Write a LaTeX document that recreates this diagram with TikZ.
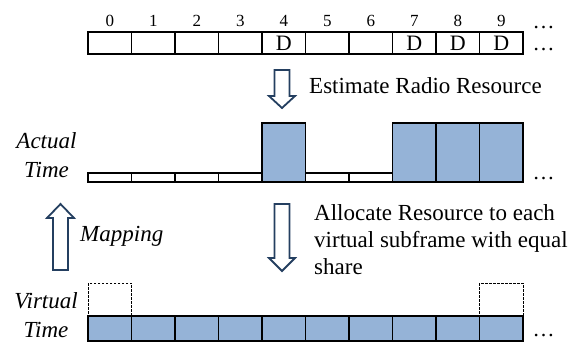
\documentclass[tikz,border=0pt]{standalone}
\usepackage{fontspec}
\setmainfont{Liberation Serif}
\definecolor{cellblue}{HTML}{95B3D7}
\definecolor{arrowblue}{HTML}{243F60}
\begin{document}
\begin{tikzpicture}[x=1pt,y=-1pt,
  cell/.style={draw=black, line width=1.1pt, minimum width=43.5pt, inner sep=0pt, outer sep=0pt},
  topcell/.style={cell, minimum height=22pt},
  thincell/.style={cell, minimum height=9pt},
  tallcell/.style={cell, fill=cellblue, minimum height=59pt},
  vcell/.style={cell, fill=cellblue, minimum height=25pt},
  ghost/.style={cell, dash pattern=on 2.5pt off 1.5pt, line width=0.8pt, minimum height=33pt},
  blockarrow/.style={draw=arrowblue, line width=1.8pt, fill=white, line join=miter},
  num/.style={font=\fontsize{17}{20}\selectfont, anchor=base, inner sep=0pt},
  dmark/.style={font=\fontsize{22}{26}\selectfont, inner sep=0pt},
  dotsmark/.style={font=\fontsize{22}{26}\selectfont, anchor=base, inner sep=0pt},
  lbl/.style={font=\fontsize{23}{29}\selectfont\itshape, align=center, inner sep=0pt, anchor=north},
  txt/.style={font=\fontsize{23}{27}\selectfont, inner sep=0pt}]
\useasboundingbox (0,0) rectangle (578,343);

% top row: subframes with indices
\foreach \i in {0,...,9} {
  \node[topcell] (t\i) at ({109.75+43.5*\i}, 43) {};
  \node[num] (n\i) at ({109.75+43.5*\i}, 26.5) {\i};
}
\foreach \i in {4,7,8,9} {
  \node[dmark] (d\i) at (t\i.center) {D};
}
\node[dotsmark] (dotsA) at (543.5,28.5) {\dots};
\node[dotsmark] (dotsB) at (543.5,50.5) {\dots};

% estimate arrow and text
\draw[blockarrow] (274.5,70) -- (289.5,70) -- (289.5,96) -- (295,96) -- (282,108) -- (269,96) -- (274.5,96) -- cycle;
\node[txt, anchor=base west] (est) at (309,93) {Estimate Radio Resource};

% actual time row
\foreach \i in {0,1,2,3,5,6} {
  \node[thincell] (a\i) at ({109.75+43.5*\i}, 177.5) {};
}
\foreach \i in {4,7,8,9} {
  \node[tallcell] (a\i) at ({109.75+43.5*\i}, 152.5) {};
}
\node[lbl] (actual) at (46.5,132.3) {Actual\\Time};
\node[dotsmark] (dotsC) at (543.5,179.5) {\dots};

% mapping arrow
\draw[blockarrow] (53,270) -- (68,270) -- (68,218) -- (74,218) -- (60.5,204) -- (47,218) -- (53,218) -- cycle;
\node[font=\fontsize{23}{27}\selectfont\itshape, inner sep=0pt, anchor=base west] (map) at (80,241) {Mapping};

% allocate arrow and text
\draw[blockarrow] (274.5,204) -- (289.5,204) -- (289.5,258) -- (295,258) -- (282,271) -- (269,258) -- (274.5,258) -- cycle;
\node[txt, anchor=north west, align=left] (alloc) at (314,204.3) {Allocate Resource to each\\virtual subframe with equal\\share};

% virtual time row
\node[ghost] (g0) at (109.75, 299.5) {};
\node[ghost] (g9) at ({109.75+43.5*9}, 299.5) {};
\foreach \i in {0,...,9} {
  \node[vcell] (v\i) at ({109.75+43.5*\i}, 328.5) {};
}
\node[lbl] (virtual) at (46,292.3) {Virtual\\Time};
\node[dotsmark] (dotsD) at (543.5,336) {\dots};
\end{tikzpicture}
\end{document}
